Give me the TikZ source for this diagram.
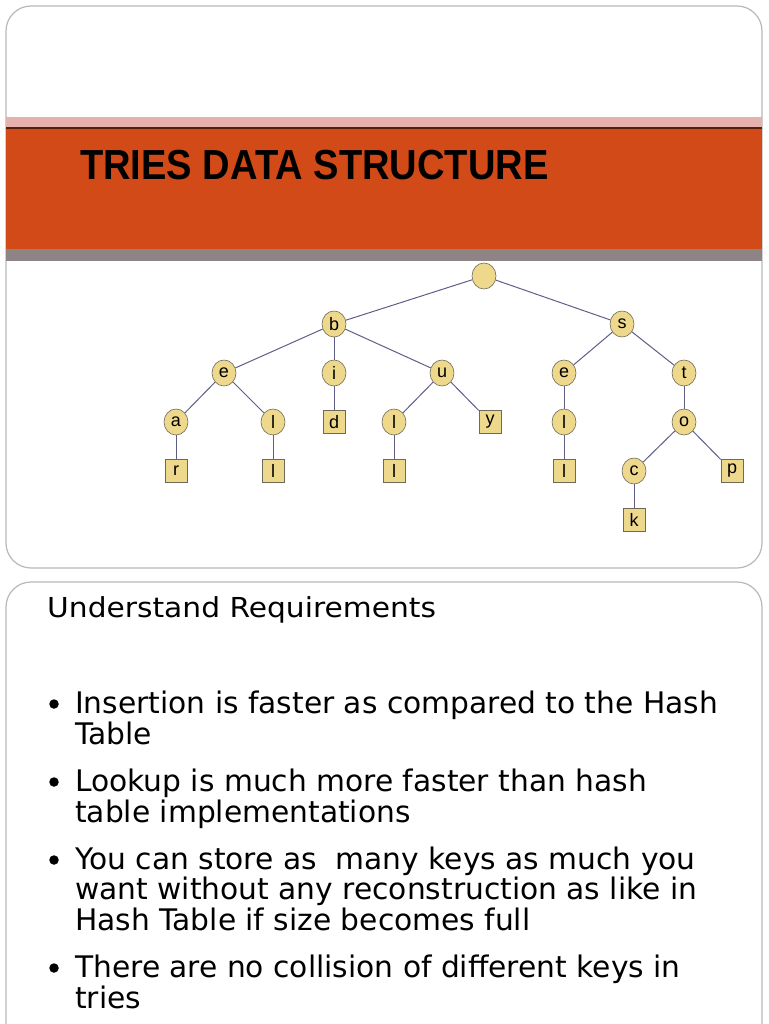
\documentclass[tikz,border=0pt]{standalone}
\usepackage{fontspec}
\usetikzlibrary{shapes.geometric}
\setmainfont{DejaVu Sans}
\newfontfamily\arialf{Liberation Sans}
\definecolor{bandorange}{HTML}{D14A18}
\definecolor{bandpink}{HTML}{E6B1AC}
\definecolor{bandgray}{HTML}{8E8486}
\definecolor{panelline}{HTML}{B8B8B8}
\definecolor{nodefill}{HTML}{EED88C}
\definecolor{nodeline}{HTML}{6E6A5A}
\definecolor{edgecol}{HTML}{5E5E86}
\begin{document}
\begin{tikzpicture}[x=1pt,y=-1pt,
  panel/.style={draw=panelline,line width=1.2pt,rounded corners=25pt,fill=white},
  cnode/.style={ellipse,draw=nodeline,fill=nodefill,line width=0.6pt,minimum width=24pt,minimum height=26pt,inner sep=0pt,font=\arialf\fontsize{18}{18}\selectfont},
  bnode/.style={rectangle,draw=nodeline,fill=nodefill,line width=0.6pt,minimum width=22pt,minimum height=23pt,inner sep=0pt,font=\arialf\fontsize{18}{18}\selectfont},
  edge/.style={draw=edgecol,line width=1pt},
  body/.style={anchor=base west,inner sep=0pt,font=\fontsize{29.7}{30}\selectfont},
  bul/.style={circle,fill=black,inner sep=0pt,minimum size=9.5pt}]
\useasboundingbox (0,0) rectangle (768,1024);
\begin{scope}
\clip (0,0) rectangle (768,1024);
% top panel
\draw[panel] (6,6) rectangle (762,568);
\fill[bandpink] (6,117) rectangle (762,128);
\fill[bandorange] (6,128) rectangle (762,249);
\draw[black!60!bandorange,line width=1.2pt] (6,128) -- (762,128);
\fill[bandgray] (6,249) rectangle (762,261);
\node[anchor=base west,inner sep=0pt] (title) at (80,180) {\scalebox{0.907}[1]{\arialf\bfseries\fontsize{42}{42}\selectfont TRIES DATA STRUCTURE}};
% bottom panel
\draw[panel] (6,582) rectangle (762,1080);
\end{scope}
% tree
\node[cnode] (root) at (484,276) {};
\node[cnode] (b) at (334,324) {b};
\node[cnode] (s) at (622,324) {s};
\node[cnode] (e1) at (224,373) {e};
\node[cnode] (i) at (334,373) {i};
\node[cnode] (u) at (442,373) {u};
\node[cnode] (e2) at (564,373) {e};
\node[cnode] (t) at (684,373) {t};
\node[cnode] (a) at (176,422) {a};
\node[cnode] (l1) at (273,422) {l};
\node[bnode] (d) at (334,422) {d};
\node[cnode] (l2) at (394,422) {l};
\node[bnode] (y) at (490,422) {y};
\node[cnode] (l3) at (564,422) {l};
\node[cnode] (o) at (684,422) {o};
\node[bnode] (r) at (176,471) {r};
\node[bnode] (l4) at (273,471) {l};
\node[bnode] (l5) at (394,471) {l};
\node[bnode] (l6) at (564,471) {l};
\node[cnode] (c) at (634,471) {c};
\node[bnode] (p) at (732,471) {p};
\node[bnode] (k) at (634,520) {k};
\draw[edge] (root) -- (b);
\draw[edge] (root) -- (s);
\draw[edge] (b) -- (e1);
\draw[edge] (b) -- (i);
\draw[edge] (b) -- (u);
\draw[edge] (s) -- (e2);
\draw[edge] (s) -- (t);
\draw[edge] (e1) -- (a);
\draw[edge] (e1) -- (l1);
\draw[edge] (i) -- (d);
\draw[edge] (u) -- (l2);
\draw[edge] (u) -- (y);
\draw[edge] (e2) -- (l3);
\draw[edge] (t) -- (o);
\draw[edge] (a) -- (r);
\draw[edge] (l1) -- (l4);
\draw[edge] (l2) -- (l5);
\draw[edge] (l3) -- (l6);
\draw[edge] (o) -- (c);
\draw[edge] (o) -- (p);
\draw[edge] (c) -- (k);
% body text
\node[body] (head) at (47,617) {\scalebox{1.08}[1]{\fontsize{27.5}{28}\selectfont Understand Requirements}};
\node[bul] (b1) at (54,704) {};
\node[body] (t1a) at (75,713) {Insertion is faster as compared to the Hash};
\node[body] (t1b) at (75,744) {Table};
\node[bul] (b2) at (54,782) {};
\node[body] (t2a) at (75,791) {Lookup is much more faster than hash};
\node[body] (t2b) at (75,822) {table implementations};
\node[bul] (b3) at (54,860) {};
\node[body] (t3a) at (75,869) {You can store as\ \ many keys as much you};
\node[body] (t3b) at (75,899) {want without any reconstruction as like in};
\node[body] (t3c) at (75,930) {Hash Table if size becomes full};
\node[bul] (b4) at (54,968) {};
\node[body] (t4a) at (75,977) {There are no collision of different keys in};
\node[body] (t4b) at (75,1008) {tries};
\end{tikzpicture}
\end{document}
